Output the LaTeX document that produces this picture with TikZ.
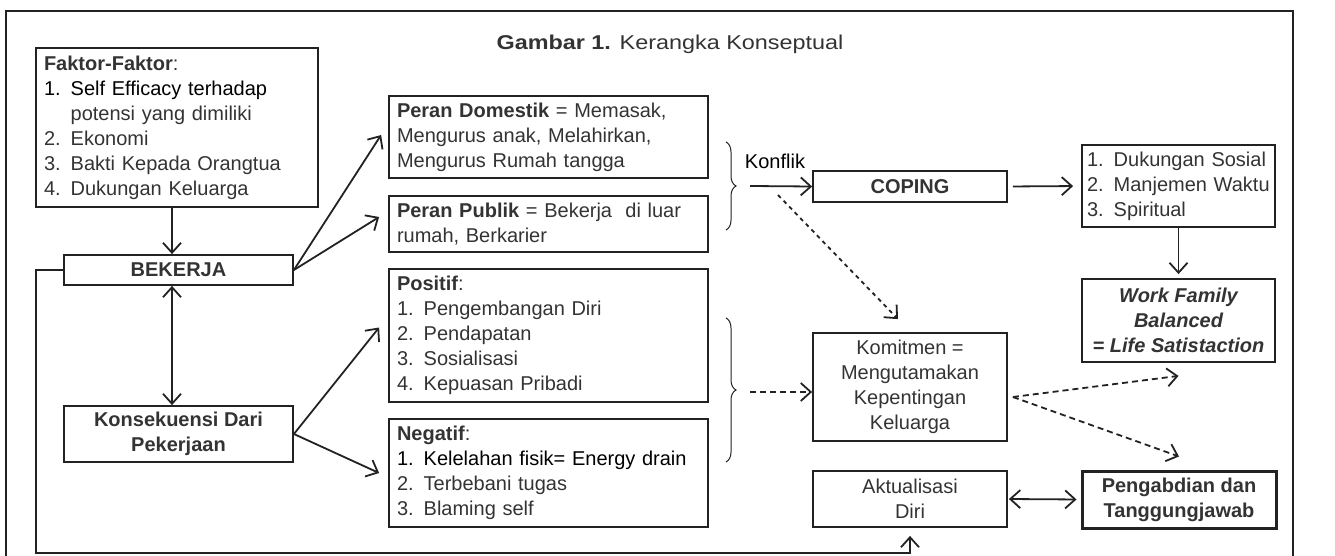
\documentclass[tikz,border=0pt]{standalone}
\usepackage{fontspec}
\setmainfont{Liberation Sans}
\newfontfamily\titlefont[FakeStretch=1.17]{Liberation Sans}
\usepackage{xcolor}
\definecolor{inkline}{HTML}{222222}
\definecolor{inktext}{HTML}{333333}
\usetikzlibrary{arrows.meta, decorations.pathreplacing}
\tikzset{
  txt/.style={font=\fontsize{20}{25}\selectfont},
  box/.style={draw=inkline, line width=1.8pt, inner xsep=8pt, inner ysep=2pt,
              text=inktext, txt},
  boxl/.style={box, align=left, text width=#1},
  boxc/.style={box, align=center},
  heavy/.style={font=\fontsize{20}{25}\selectfont\bfseries},
  heavyit/.style={font=\fontsize{20}{25}\selectfont\bfseries\itshape},
  arr/.style={draw=inkline, line width=1.8pt,
              -{Straight Barb[length=10pt, width=18pt]}},
  twoway/.style={arr, {Straight Barb[length=10pt, width=18pt]}-{Straight Barb[length=10pt, width=18pt]}},
  dashedarr/.style={arr, dash pattern=on 6pt off 4pt},
  dotarr/.style={arr, dash pattern=on 4pt off 4pt},
  brc/.style={draw=inkline, line width=1pt, decorate,
              decoration={brace, amplitude=10pt}},
}

\begin{document}
\begin{tikzpicture}[x=1pt, y=-1pt]
  \useasboundingbox (0,0) rectangle (1335,556);
  % outer frame (bottom edge runs off the page)
  \draw[inkline, line width=1.8pt] (6,560) -- (6,11) -- (1293,11) -- (1293,560);
  \node[text=inktext, font=\titlefont\fontsize{20}{25}\selectfont] (title) at (670,44)
    {\textbf{Gambar 1.} Kerangka Konseptual};

  % left column
  \node[boxl=266pt, minimum height=159pt] (faktor) at (177,127.5)
    {\textbf{Faktor-Faktor}:\\ {\color{black}1. Self Efficacy terhadap}\\
     \hphantom{1. }potensi yang dimiliki\\ 2. Ekonomi\\ 3. Bakti Kepada Orangtua\\
     4. Dukungan Keluarga};
  \node[boxc, heavy, minimum width=229pt, minimum height=30pt] (bekerja) at (178.5,270) {BEKERJA};
  \node[boxc, heavy, minimum width=229pt, minimum height=56pt] (konsek) at (178.5,434)
    {Konsekuensi Dari\\ Pekerjaan};

  % roles and consequences
  \node[boxl=303pt, minimum height=82pt] (dom) at (548.5,137)
    {\textbf{Peran Domestik} = Memasak,\\ Mengurus anak, Melahirkan,\\ Mengurus Rumah tangga};
  \node[boxl=303pt, minimum height=56pt] (pub) at (548.5,224)
    {\textbf{Peran Publik} = Bekerja\ \ di luar\\ rumah, Berkarier};
  \node[boxl=303pt, minimum height=133pt] (pos) at (548.5,335.5)
    {\textbf{Positif}:\\ 1. Pengembangan Diri\\ 2. Pendapatan\\ 3. Sosialisasi\\ 4. Kepuasan Pribadi};
  \node[boxl=303pt, minimum height=108pt] (neg) at (548.5,473)
    {\textbf{Negatif}:\\ {\color{black}1. Kelelahan fisik= Energy drain}\\ 2. Terbebani tugas\\ 3. Blaming self};

  % braces
  \draw[brc] (726,142) -- (726,230);
  \draw[brc] (726,318) -- (726,462);
  \coordinate (kon) at (750,186);
  \coordinate (kondot) at (778,195);
  \coordinate (kom) at (750,392);
  \node[txt, text=black] (konflik) at (775,161) {Konflik};

  % middle column
  \node[boxc, heavy, minimum width=194pt, minimum height=31pt] (coping) at (910,186.5) {COPING};
  \node[boxc, minimum width=194pt, minimum height=108pt] (komit) at (910,387)
    {Komitmen =\\ Mengutamakan\\ Kepentingan\\ Keluarga};
  \node[boxc, minimum width=194pt, minimum height=56pt] (aktual) at (910,499) {Aktualisasi\\ Diri};
  \coordinate (kout) at ([xshift=5pt, yshift=-10pt]komit.east);
  \coordinate (loop) at (36,553);

  % right column
  \node[boxl=183pt, inner xsep=5pt, minimum height=82pt] (dukung) at (1178.5,186)
    {1. Dukungan Sosial\\ 2. Manjemen Waktu\\ 3. Spiritual};
  \node[boxc, heavyit, minimum width=193pt, minimum height=83pt] (wfb) at (1178.5,320.5)
    {Work Family\\ Balanced\\ = Life Satistaction};
  \node[boxc, heavy, line width=3pt, minimum width=194pt, minimum height=57pt] (abdi) at (1179,499.5)
    {Pengabdian dan\\ Tanggungjawab};

  % connectors
  \draw[arr] ([xshift=-5pt]faktor.south) -- ([xshift=-6.5pt]bekerja.north);
  \draw[arr] (bekerja.east) -- ([xshift=-7pt, yshift=2pt]dom.west);
  \draw[arr] (bekerja.east) -- ([xshift=-9pt, yshift=7pt]pub.west);
  \draw[twoway] ([xshift=-6.5pt]bekerja.south) -- ([xshift=-6.5pt]konsek.north);
  \draw[arr] (konsek.east) -- ([xshift=-9pt, yshift=8pt]pos.west);
  \draw[arr] (konsek.east) -- ([xshift=-9pt]neg.west);
  \draw[arr] (kon) -- (coping.west);
  \draw[arr, shorten <=5pt, shorten >=8pt] (coping.east) -- (dukung.west);
  \draw[arr, shorten >=4pt] (dukung.south) -- (wfb.north);
  \draw[dotarr] (kondot) -- ([xshift=-12pt, yshift=13pt]komit.north);
  \draw[dashedarr] (kom) -- (kom -| komit.west);
  \draw[dashedarr] (kout) -- ([yshift=-13pt]wfb.south);
  \draw[dashedarr] (kout) -- ([yshift=13pt]abdi.north);
  \draw[twoway, shorten <=1pt, shorten >=4pt] (aktual.east) -- (abdi.west);
  \draw[arr] (bekerja.west) -| (loop) -| ([yshift=-8pt]aktual.south);
\end{tikzpicture}
\end{document}
